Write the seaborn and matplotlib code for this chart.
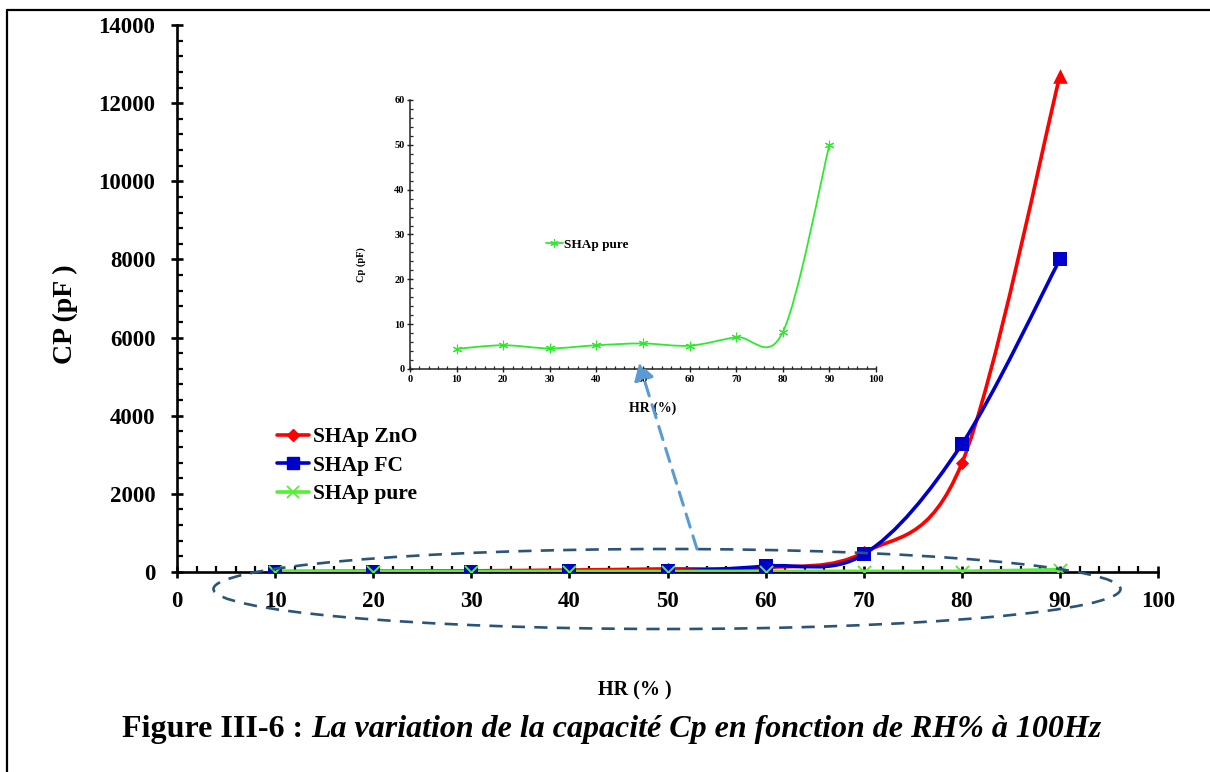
import numpy as np
import pandas as pd
import matplotlib
matplotlib.use("Agg")
import matplotlib.pyplot as plt
import seaborn as sns
from matplotlib.path import Path
from matplotlib.patches import PathPatch, Ellipse, FancyArrowPatch
from matplotlib.lines import Line2D
from matplotlib.text import Annotation
from matplotlib.ticker import MultipleLocator

# Relative humidity (%) and measured capacitance Cp (pF) at 100 Hz
hr = [10, 20, 30, 40, 50, 60, 70, 80, 90]
cp_zno = [10, 20, 30, 50, 80, 110, 500, 2780, 12700]
cp_fc = [5, 8, 10, 15, 25, 150, 450, 3270, 8000]
cp_pure = [4.5, 5.3, 4.6, 5.3, 5.7, 5.2, 7.1, 8.2, 50]

series_names = ["SHAp ZnO", "SHAp FC", "SHAp pure"]
main_yticks = [0, 2000, 4000, 6000, 8000, 10000, 12000, 14000]
main_xticks = [0, 10, 20, 30, 40, 50, 60, 70, 80, 90, 100]
inset_yticks = [0, 10, 20, 30, 40, 50, 60]

caption_bold = "Figure III-6 : "
caption_italic = "La variation de la capacité Cp en fonction de RH% à 100Hz"

RED = "#FF0000"
BLUE = "#0000CC"
GREEN = "#55F034"
GREEN_IN = "#2EEA2E"

sns.set_style("ticks")
plt.rcParams["font.family"] = ["Liberation Serif", "DejaVu Serif"]
plt.rcParams["font.weight"] = "bold"
for key in ["text.color", "axes.labelcolor", "xtick.color", "ytick.color",
            "axes.edgecolor"]:
    plt.rcParams[key] = "black"


def smooth_path(x, y):
    """Cubic Bezier path through the points (spreadsheet-style smoothed line)."""
    n = len(x)
    verts = [(x[0], y[0])]
    codes = [Path.MOVETO]
    for i in range(n - 1):
        a = max(i - 1, 0)
        b = min(i + 2, n - 1)
        c1 = (x[i] + (x[i + 1] - x[a]) / 6, y[i] + (y[i + 1] - y[a]) / 6)
        c2 = (x[i + 1] - (x[b] - x[i]) / 6, y[i + 1] - (y[b] - y[i]) / 6)
        verts += [c1, c2, (x[i + 1], y[i + 1])]
        codes += [Path.CURVE4] * 3
    return Path(verts, codes)


def draw_curve(ax, x, y, color, lw, z):
    patch = PathPatch(smooth_path(x, y), fill=False, edgecolor=color, lw=lw,
                      transform=ax.transData, zorder=z, capstyle="round",
                      joinstyle="round")
    ax.add_patch(patch)


star = (6, 2, 0)

fig = plt.figure(figsize=(12.10, 7.72), dpi=100)
fig.patch.set_facecolor("white")

# ---------------- main axes ----------------
ax = fig.add_axes([177 / 1210, 1 - 572 / 772, (1158 - 177) / 1210, (572 - 25) / 772])
ax.set_facecolor("white")

df = pd.DataFrame({"HR": hr, "ZnO": cp_zno, "FC": cp_fc, "pure": cp_pure})

draw_curve(ax, hr, cp_zno, RED, 2.6, 3)
draw_curve(ax, hr, cp_fc, BLUE, 2.6, 4)
draw_curve(ax, hr, cp_pure, GREEN, 3.2, 5)

sns.scatterplot(data=df.iloc[:-1], x="HR", y="ZnO", marker="D", s=45, color=RED,
                edgecolor=RED, linewidth=0, ax=ax, zorder=6, legend=False)
sns.scatterplot(data=df.iloc[-1:], x="HR", y="ZnO", marker="^", s=110, color=RED,
                edgecolor=RED, linewidth=0, ax=ax, zorder=6, legend=False)
sns.scatterplot(data=df, x="HR", y="FC", marker="s", s=110, color=BLUE,
                edgecolor=BLUE, linewidth=0, ax=ax, zorder=7, legend=False)
sns.scatterplot(data=df, x="HR", y="pure", marker="x", s=90, color=GREEN,
                linewidth=1.4, ax=ax, zorder=8, legend=False)

ax.set_xlim(0, 100)
ax.set_ylim(0, 14000)
ax.set_xticks(main_xticks)
ax.set_yticks(main_yticks)
ax.set_xticklabels([str(v) for v in main_xticks])
ax.set_yticklabels([str(v) for v in main_yticks])
ax.xaxis.set_minor_locator(MultipleLocator(2))
ax.yaxis.set_minor_locator(MultipleLocator(400))
for side in ["top", "right"]:
    ax.spines[side].set_visible(False)
for side in ["left", "bottom"]:
    ax.spines[side].set_linewidth(1.9)
    ax.spines[side].set_color("black")
ax.tick_params(which="major", direction="inout", length=9, width=1.9,
               labelsize=16.5, color="black")
ax.tick_params(which="minor", direction="in", length=4, width=1.6, color="black")
ax.tick_params(axis="y", which="major", pad=11)
ax.tick_params(axis="x", which="major", pad=9)
for lab in ax.get_xticklabels() + ax.get_yticklabels():
    lab.set_fontweight("bold")
ax.set_xlabel("")
ax.set_ylabel("")

handles = [
    Line2D([], [], color=RED, lw=2.6, marker="D", markersize=6.5),
    Line2D([], [], color=BLUE, lw=2.6, marker="s", markersize=9),
    Line2D([], [], color=GREEN, lw=2.6, marker="x", markersize=8, markeredgewidth=1.3),
]
fig.legend(handles, series_names, loc="upper left",
           bbox_to_anchor=(277 / 1210, 1 - 427 / 772), frameon=False,
           prop={"family": "Liberation Serif", "weight": "bold", "size": 15.5},
           handlelength=1.5, handletextpad=0.15, labelspacing=0.4,
           borderpad=0, borderaxespad=0)

# ---------------- inset axes ----------------
axi = fig.add_axes([410 / 1210, 1 - 369 / 772, (876 - 410) / 1210, (369 - 100) / 772])
axi.set_facecolor("white")
draw_curve(axi, hr, cp_pure, GREEN_IN, 1.3, 3)
sns.scatterplot(data=df, x="HR", y="pure", marker=star, s=40, color=GREEN_IN,
                edgecolor=GREEN_IN, linewidth=0.8, ax=axi, zorder=5, legend=False)
axi.set_xlim(0, 100)
axi.set_ylim(0, 60)
axi.set_xticks(main_xticks)
axi.set_yticks(inset_yticks)
axi.set_xticklabels([str(v) for v in main_xticks])
axi.set_yticklabels([str(v) for v in inset_yticks])
axi.xaxis.set_minor_locator(MultipleLocator(2))
axi.yaxis.set_minor_locator(MultipleLocator(2))
for side in ["top", "right"]:
    axi.spines[side].set_visible(False)
for side in ["left", "bottom"]:
    axi.spines[side].set_linewidth(1.1)
    axi.spines[side].set_color("#222222")
axi.tick_params(which="major", direction="inout", length=4, width=1.0,
                labelsize=7.5, color="#222222", pad=2)
axi.tick_params(which="minor", direction="in", length=2, width=0.9, color="#222222")
for lab in axi.get_xticklabels() + axi.get_yticklabels():
    lab.set_fontweight("bold")
axi.set_xlabel("HR (%)", fontsize=10, fontweight="bold")
axi.set_ylabel("Cp (pF)", fontsize=7.5, fontweight="bold")
axi.xaxis.set_label_coords(0.52, -0.12)
axi.yaxis.set_label_coords(-0.095, 0.39)
axi.legend([Line2D([], [], color=GREEN_IN, lw=1.3, marker=star, markersize=6,
                   markeredgewidth=0.8)],
           [series_names[2]], loc="center left",
           bbox_to_anchor=(0.291, 0.463), frameon=False,
           prop={"family": "Liberation Serif", "weight": "bold", "size": 9.5},
           handlelength=1.3, handletextpad=0.1, borderpad=0, borderaxespad=0)

# ---------------- axis titles and caption ----------------
fig.text(65 / 1210, 1 - 314 / 772, "CP (pF )", rotation=90, ha="center",
         va="center", fontsize=20, fontweight="bold")
fig.text(635 / 1210, 1 - 690 / 772, "HR (% )", ha="center", va="center",
         fontsize=14.5, fontweight="bold")
t1 = fig.text(122 / 1210, 1 - 737 / 772, caption_bold, ha="left",
              va="baseline", fontsize=23, fontweight="bold")
cap2 = Annotation(caption_italic, xy=(1, 0), xycoords=t1, xytext=(0, 0),
                  textcoords="offset points", ha="left", va="bottom",
                  fontsize=23, fontweight="bold", fontstyle="italic")
fig.add_artist(cap2)

# ---------------- highlight ellipse and arrow ----------------
ell = Ellipse((667 / 1210, 1 - 589 / 772), 907 / 1210, 80 / 772,
              transform=fig.transFigure, fill=False, edgecolor="#2B5479",
              lw=1.9, linestyle=(0, (5, 3.5)), zorder=20)
fig.add_artist(ell)
fig.add_artist(FancyArrowPatch(
    (697 / 1210, 1 - 549 / 772), (639 / 1210, 1 - 363 / 772),
    transform=fig.transFigure, arrowstyle="-|>,head_length=10,head_width=6",
    color="#5B9BD5", lw=2.2, linestyle=(0, (4.5, 3)), zorder=21,
    shrinkA=0, shrinkB=0))

# ---------------- page frame ----------------
fig.add_artist(Line2D([7 / 1210, 7 / 1210], [0, 1 - 10 / 772], color="black",
                      lw=1.6, transform=fig.transFigure))
fig.add_artist(Line2D([7 / 1210, 1], [1 - 10 / 772, 1 - 10 / 772], color="black",
                      lw=1.6, transform=fig.transFigure))

fig.savefig("out.png", dpi=100, facecolor="white")
